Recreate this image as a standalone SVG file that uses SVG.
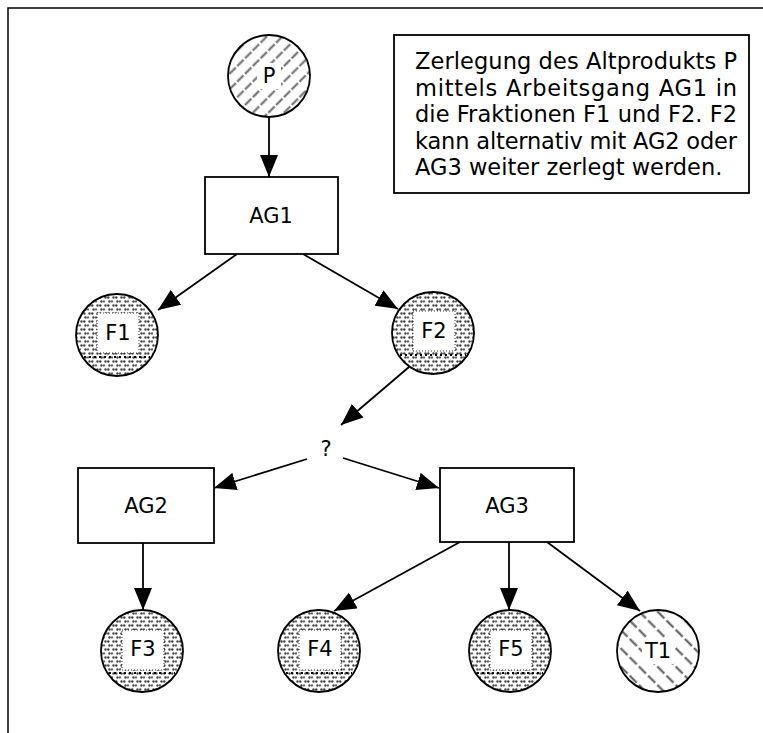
<svg xmlns="http://www.w3.org/2000/svg" width="763" height="733" viewBox="0 0 763 733">
<style>
.lbl{font-family:"DejaVu Sans","Liberation Sans",sans-serif;font-size:21px;fill:#000;text-anchor:middle;dominant-baseline:central}
.box{fill:#fff;stroke:#000;stroke-width:1.8}
.circ{stroke:#000;stroke-width:1.8}
.edge{stroke:#000;stroke-width:1.8;fill:none;marker-end:url(#ah)}
.inner{fill:#fff;stroke:#000;stroke-width:0.8;stroke-dasharray:1 2}
.chord{stroke:#000;stroke-width:1.8;stroke-dasharray:2 3}
.note{font-family:"DejaVu Sans","Liberation Sans",sans-serif;font-size:22.5px;fill:#000}
</style>
<defs>
<marker id="ah" viewBox="0 0 22 18" refX="22" refY="9" markerWidth="22" markerHeight="18" markerUnits="userSpaceOnUse" orient="auto">
<path d="M0,0 L22,9 L0,18 Z" fill="#000"/>
</marker>
<pattern id="hatchR" width="11" height="11" patternUnits="userSpaceOnUse" patternTransform="rotate(-45)">
<rect width="11" height="11" fill="#fff"/>
<line x1="0" y1="5.5" x2="11" y2="5.5" stroke="#666" stroke-width="2" stroke-dasharray="9 2"/>
</pattern>
<pattern id="hatchL" width="13" height="13" patternUnits="userSpaceOnUse" patternTransform="rotate(45)">
<rect width="13" height="13" fill="#fff"/>
<line x1="0" y1="6.5" x2="13" y2="6.5" stroke="#555" stroke-width="2" stroke-dasharray="10 3"/>
</pattern>
<pattern id="dots" width="8" height="8" patternUnits="userSpaceOnUse">
<rect width="8" height="8" fill="#fff"/>
<circle cx="1.5" cy="1.5" r="1.2" fill="#444"/>
<circle cx="4.3" cy="1.5" r="1.2" fill="#444"/>
<circle cx="5.5" cy="5.5" r="1.2" fill="#444"/>
<circle cx="8.3" cy="5.5" r="1.2" fill="#444"/>
<circle cx="-0.3" cy="5.5" r="1.2" fill="#444"/>
</pattern>
</defs>
<rect width="763" height="733" fill="#fff"/>
<path d="M8,733 V8 H763" fill="none" stroke="#000" stroke-width="1.5"/>

<g id="note">
<rect class="box" x="394" y="35" width="355" height="158"/>
<text class="note" x="415" y="69" textLength="322" lengthAdjust="spacing">Zerlegung des Altprodukts P</text>
<text class="note" x="415" y="96" textLength="322" lengthAdjust="spacing">mittels Arbeitsgang AG1 in</text>
<text class="note" x="415" y="122" textLength="322" lengthAdjust="spacing">die Fraktionen F1 und F2. F2</text>
<text class="note" x="415" y="149" textLength="322" lengthAdjust="spacing">kann alternativ mit AG2 oder</text>
<text class="note" x="415" y="175">AG3 weiter zerlegt werden.</text>
</g>

<g id="connectors">
<line class="edge" x1="269" y1="117" x2="269" y2="177"/>
<line class="edge" x1="237" y1="254" x2="158" y2="310"/>
<line class="edge" x1="303" y1="254" x2="398" y2="309"/>
<line class="edge" x1="409" y1="367" x2="341" y2="425"/>
<line class="edge" x1="307" y1="459" x2="214" y2="488"/>
<line class="edge" x1="343" y1="458" x2="439" y2="488"/>
<line class="edge" x1="143" y1="543" x2="143" y2="610"/>
<line class="edge" x1="460" y1="542" x2="334" y2="611"/>
<line class="edge" x1="509" y1="542" x2="509" y2="610"/>
<line class="edge" x1="547" y1="542" x2="640" y2="611"/>
</g>

<g id="P">
<circle class="circ" cx="269" cy="76" r="41" fill="url(#hatchR)"/>
<rect x="257" y="63" width="24" height="26" fill="#fff"/>
<text class="lbl" x="269" y="76">P</text>
</g>
<g id="AG1">
<rect class="box" x="205" y="177" width="133" height="77"/>
<text class="lbl" x="271" y="216">AG1</text>
</g>
<g id="F1">
<circle class="circ" cx="117" cy="335" r="41" fill="url(#dots)"/>
<rect class="inner" x="97" y="313" width="42" height="40"/>
<line class="chord" x1="84" y1="357" x2="150" y2="357"/>
<text class="lbl" x="118" y="333">F1</text>
</g>
<g id="F2">
<circle class="circ" cx="433" cy="333" r="41" fill="url(#dots)"/>
<rect class="inner" x="413" y="311" width="42" height="40"/>
<line class="chord" x1="400" y1="355" x2="466" y2="355"/>
<text class="lbl" x="434" y="331">F2</text>
</g>
<g id="q">
<text class="lbl" x="326" y="449">?</text>
</g>
<g id="AG2">
<rect class="box" x="78" y="468" width="136" height="75"/>
<text class="lbl" x="146" y="506">AG2</text>
</g>
<g id="AG3">
<rect class="box" x="440" y="468" width="134" height="74"/>
<text class="lbl" x="507" y="506">AG3</text>
</g>
<g id="F3">
<circle class="circ" cx="142" cy="651" r="41" fill="url(#dots)"/>
<rect class="inner" x="122" y="630" width="42" height="40"/>
<line class="chord" x1="109" y1="673" x2="175" y2="673"/>
<text class="lbl" x="143" y="649">F3</text>
</g>
<g id="F4">
<circle class="circ" cx="319" cy="651" r="41" fill="url(#dots)"/>
<rect class="inner" x="299" y="630" width="42" height="40"/>
<line class="chord" x1="286" y1="673" x2="352" y2="673"/>
<text class="lbl" x="320" y="649">F4</text>
</g>
<g id="F5">
<circle class="circ" cx="510" cy="651" r="41" fill="url(#dots)"/>
<rect class="inner" x="490" y="630" width="42" height="40"/>
<line class="chord" x1="477" y1="673" x2="543" y2="673"/>
<text class="lbl" x="511" y="649">F5</text>
</g>
<g id="T1">
<circle class="circ" cx="658" cy="651" r="41" fill="url(#hatchL)"/>
<rect x="642" y="638" width="32" height="26" fill="#fff"/>
<text class="lbl" x="658" y="651">T1</text>
</g>
</svg>
